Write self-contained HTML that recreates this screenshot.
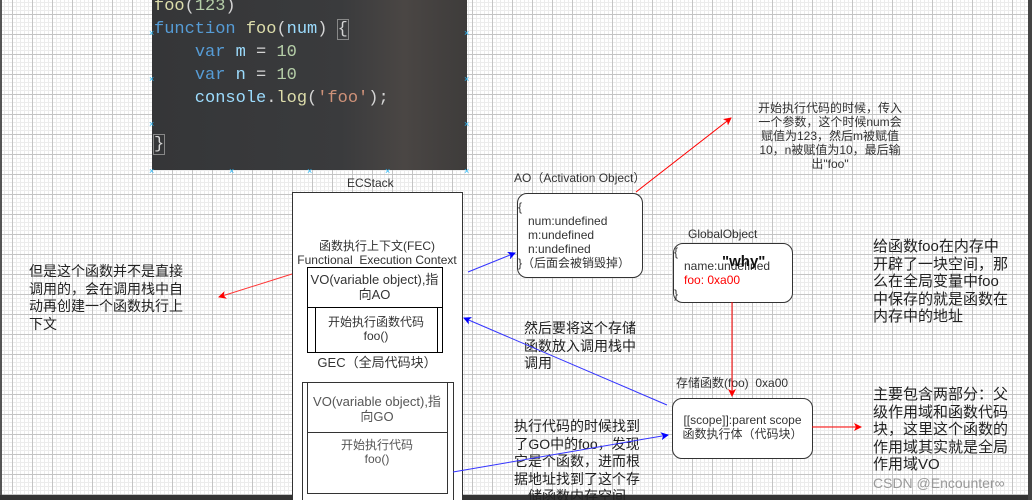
<!DOCTYPE html>
<html style="overflow:hidden;width:1032px;height:500px"><head><meta charset="utf-8"><style>
body{margin:0;width:1032px;height:500px;overflow:hidden;position:relative;font-family:"Liberation Sans","Noto Sans CJK SC",sans-serif;color:#333;
background-color:#fff;
background-image:linear-gradient(#c4c4c4 1px,transparent 1px),linear-gradient(90deg,#c4c4c4 1px,transparent 1px),linear-gradient(#ececec 1px,transparent 1px),linear-gradient(90deg,#ececec 1px,transparent 1px);
background-size:20px 20px,20px 20px,4px 4px,4px 4px;background-position:-8px -6px}
.a{position:absolute}
.t{position:absolute;font-size:12px;line-height:14px;white-space:nowrap}
.b{position:absolute;border:1px solid #333;background:#fff}
.code{position:absolute;left:152px;top:0;width:315px;height:170px;background:linear-gradient(90deg,#353638 0%,#3a3b3d 60%,#4a4644 80%,#3e3c3b 100%);font-family:"Liberation Mono",monospace;font-size:17px;line-height:23px;color:#9cdcfe}
.k{color:#569cd6}.f{color:#dcdcaa}.n{color:#b5cea8}.s{color:#ce9178}.w{color:#d4d4d4}
.big{font-size:14px;line-height:17.5px;color:#222}
</style></head><body>
<div class="code"><div style="position:absolute;top:-5px;left:2px;white-space:pre"><span class="f">foo</span><span class="w">(</span><span class="n">123</span><span class="w">)</span>
<span class="k">function</span> <span class="f">foo</span><span class="w">(</span>num<span class="w">) <span style="outline:1px solid #888">{</span></span>
    <span class="k">var</span> m <span class="w">=</span> <span class="n">10</span>
    <span class="k">var</span> n <span class="w">=</span> <span class="n">10</span>
    console<span class="w">.</span><span class="f">log</span><span class="w">(</span><span class="s">'foo'</span><span class="w">);</span>

<span class="w" style="outline:1px solid #888">}</span></div></div>
<div class="a" style="left:0;top:0;width:2px;height:500px;background:#555"></div>
<div class="a" style="left:0;top:495px;width:1032px;height:5px;background:#333"></div>
<div class="a" style="left:1028px;top:0;width:4px;height:500px;background:#444"></div>

<div class="t" style="left:347px;top:176px">ECStack</div>
<div class="b" style="left:292px;top:192px;width:169px;height:310px"></div>
<div class="t" style="left:292px;top:239px;width:170px;text-align:center">函数执行上下文(FEC)<br>Functional&nbsp; Execution Context</div>
<div class="b" style="left:307px;top:267px;width:134px;height:84px;border-color:#000"></div>
<div class="a" style="left:307px;top:307px;width:135px;height:1px;background:#000"></div>
<div class="a" style="left:315px;top:307px;width:1px;height:45px;background:#000"></div>
<div class="a" style="left:437px;top:307px;width:1px;height:45px;background:#000"></div>
<div class="t" style="left:307px;top:272px;width:135px;text-align:center;font-size:13px;line-height:15px">VO(variable object),指<br>向AO</div>
<div class="t" style="left:315px;top:315px;width:122px;text-align:center">开始执行函数代码<br>foo()</div>
<div class="t" style="left:302px;top:356px;width:150px;text-align:center;font-size:13px">GEC（全局代码块）</div>
<div class="b" style="left:302px;top:382px;width:150px;height:120px"></div>
<div class="b" style="left:307px;top:382px;width:139px;height:110px"></div>
<div class="a" style="left:307px;top:432px;width:140px;height:1px;background:#333"></div>
<div class="t" style="left:307px;top:394px;width:140px;text-align:center;font-size:13px;line-height:15px;color:#555">VO(variable object),指<br>向GO</div>
<div class="t" style="left:307px;top:438px;width:140px;text-align:center;color:#555">开始执行代码<br>foo()</div>

<div class="t" style="left:514px;top:171px">AO（Activation Object）</div>
<div class="b" style="left:517px;top:193px;width:124px;height:83px;border-radius:10px"></div>
<div class="t" style="left:518px;top:200px;line-height:14px">{<br>&nbsp;&nbsp; num:undefined<br>&nbsp;&nbsp; m:undefined<br>&nbsp;&nbsp; n:undefined<br>}（后面会被销毁掉）</div>

<div class="t" style="left:688px;top:227px">GlobalObject</div>
<div class="b" style="left:673px;top:243px;width:118px;height:58px;border-radius:10px"></div>
<div class="t" style="left:674px;top:245px;line-height:14px">{<br>&nbsp;&nbsp; name:undefined<br>&nbsp;&nbsp; <span style="color:#f00">foo: 0xa00</span><br>}</div>
<div class="t" style="left:722px;top:255px;font-weight:bold;font-size:15px;color:#111">"why"</div>

<div class="t" style="left:676px;top:376px">存储函数(foo)&nbsp; 0xa00</div>
<div class="b" style="left:672px;top:398px;width:139px;height:59px;border-radius:10px"></div>
<div class="t" style="left:672px;top:413px;width:141px;text-align:center">[[scope]]:parent scope<br>函数执行体（代码块）</div>

<div class="t" style="left:750px;top:101px;width:160px;text-align:center">开始执行代码的时候，传入<br>一个参数，这个时候num会<br>赋值为123，然后m被赋值<br>10，n被赋值为10，最后输<br>出"foo"</div>
<div class="t big" style="left:873px;top:238px;font-size:15px">给函数foo在内存中<br>开辟了一块空间，那<br>么在全局变量中foo<br>中保存的就是函数在<br>内存中的地址</div>
<div class="t big" style="left:873px;top:386px;font-size:15px">主要包含两部分：父<br>级作用域和函数代码<br>块，这里这个函数的<br>作用域其实就是全局<br>作用域VO</div>
<div class="t big" style="left:29px;top:263px">但是这个函数并不是直接<br>调用的，会在调用栈中自<br>动再创建一个函数执行上<br>下文</div>
<div class="t big" style="left:524px;top:320px">然后要将这个存储<br>函数放入调用栈中<br>调用</div>
<div class="t big" style="left:510px;top:418px;width:134px;text-align:center">执行代码的时候找到<br>了GO中的foo，发现<br>它是个函数，进而根<br>据地址找到了这个存<br>储函数内存空间</div>
<div class="t" style="left:873px;top:476px;font-size:14px;color:#999">CSDN @Encounter∞</div>

<svg class="a" style="left:0;top:0" width="1032" height="500">
<defs>
<marker id="r" markerWidth="8" markerHeight="8" refX="7" refY="4" orient="auto" markerUnits="userSpaceOnUse"><path d="M0,0L8,4L0,8L2,4z" fill="#f00"/></marker>
<marker id="bl" markerWidth="8" markerHeight="8" refX="7" refY="4" orient="auto" markerUnits="userSpaceOnUse"><path d="M0,0L8,4L0,8L2,4z" fill="#00f"/></marker>
</defs>
<g stroke-width="1" fill="none">
<line x1="292" y1="274" x2="219" y2="297" stroke="#f33" marker-end="url(#r)"/>
<line x1="468" y1="272" x2="515" y2="253" stroke="#33f" marker-end="url(#bl)"/>
<line x1="636" y1="192" x2="731" y2="118" stroke="#f00" marker-end="url(#r)"/>
<line x1="667" y1="405" x2="464" y2="318" stroke="#33f" marker-end="url(#bl)"/>
<line x1="453" y1="472" x2="668" y2="435" stroke="#33f" marker-end="url(#bl)"/>
<line x1="732" y1="302" x2="732" y2="396" stroke="#f00" marker-end="url(#r)"/>
<line x1="812" y1="427" x2="861" y2="427" stroke="#f00" marker-end="url(#r)"/>
</g>
<g fill="#29b6f6" font-size="9" font-family="Liberation Sans">
<text x="149" y="36">×</text><text x="149" y="82">×</text><text x="149" y="127">×</text><text x="149" y="174">×</text>
<text x="464" y="36">×</text><text x="464" y="82">×</text><text x="464" y="127">×</text><text x="464" y="174">×</text>
<text x="229" y="174">×</text><text x="307" y="174">×</text><text x="385" y="174">×</text>
</g>
</svg>
</body></html>
